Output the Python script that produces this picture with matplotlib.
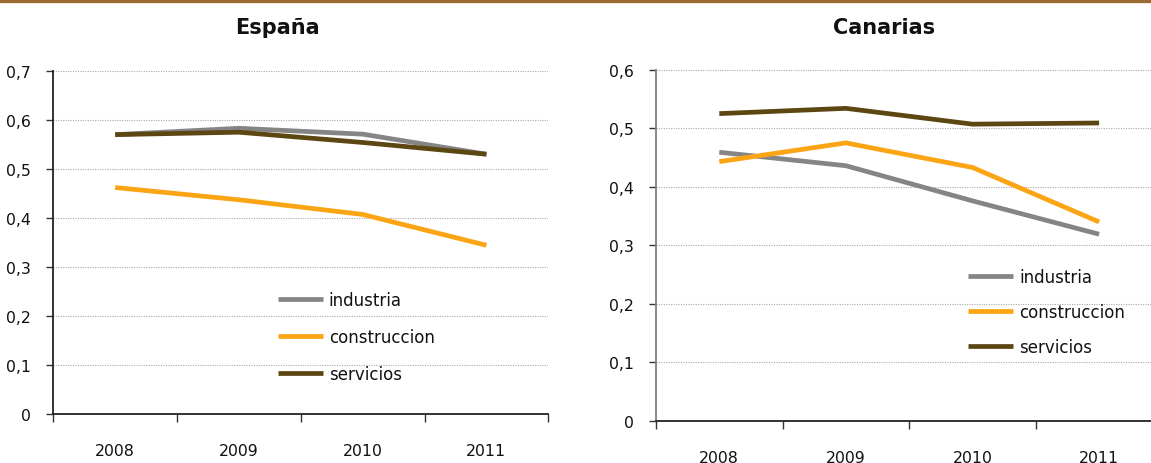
import matplotlib
matplotlib.use("Agg")
import matplotlib.pyplot as plt
from matplotlib.lines import Line2D

years = ["2008", "2009", "2010", "2011"]
series_names = ["industria", "construccion", "servicios"]

espana_industria = [0.570, 0.583, 0.571, 0.530]
espana_construccion = [0.462, 0.437, 0.407, 0.344]
espana_servicios = [0.570, 0.575, 0.554, 0.530]

canarias_industria = [0.459, 0.436, 0.376, 0.319]
canarias_construccion = [0.443, 0.475, 0.433, 0.340]
canarias_servicios = [0.525, 0.534, 0.507, 0.509]

espana_yticks = [0, 0.1, 0.2, 0.3, 0.4, 0.5, 0.6, 0.7]
espana_ylabels = ["0", "0,1", "0,2", "0,3", "0,4", "0,5", "0,6", "0,7"]
canarias_yticks = [0, 0.1, 0.2, 0.3, 0.4, 0.5, 0.6]
canarias_ylabels = ["0", "0,1", "0,2", "0,3", "0,4", "0,5", "0,6"]

colors = {"industria": "#858585", "construccion": "#FBA414", "servicios": "#5C4712"}

plt.rcParams['font.family'] = ['DejaVu Sans']

W, H = 1151, 464
fig = plt.figure(figsize=(W / 100, H / 100), dpi=100)

def px_axes(l, r, top, bottom):
    return [l / W, 1 - bottom / H, (r - l) / W, (bottom - top) / H]

ax1 = fig.add_axes(px_axes(53.3, 548.3, 72, 414.7))
ax2 = fig.add_axes(px_axes(656, 1162.4, 70.7, 422))

def style(ax, yticks, ylabels, ymax, data, spine_color, leg_anchor, leg_spacing, title, title_x):
    x = list(range(len(years)))
    for name, vals in zip(series_names, data):
        ax.plot(x, vals, color=colors[name], lw=3.4, solid_capstyle='butt',
                solid_joinstyle='miter', label=name, zorder=3)
    ax.set_xlim(-0.5, len(years) - 0.5)
    ax.set_ylim(0, ymax)
    ax.set_yticks(yticks)
    ax.set_yticklabels(ylabels, fontsize=11.3, color="#111111")
    ax.set_xticks([i - 0.5 for i in range(len(years) + 1)])
    ax.set_xticklabels([])
    ax.set_xticks(x, minor=True)
    ax.set_xticklabels(years, minor=True, fontsize=11.3, color="#111111")
    ax.tick_params(axis='x', which='major', length=6, width=1, color="#333333", direction='out')
    ax.tick_params(axis='x', which='minor', length=0, pad=21)
    ax.tick_params(axis='y', length=5, width=1, color="#333333", direction='out', pad=11)
    for s in ['top', 'right']:
        ax.spines[s].set_visible(False)
    ax.spines['left'].set_color(spine_color)
    ax.spines['left'].set_linewidth(1.3)
    ax.spines['bottom'].set_color("#222222")
    ax.spines['bottom'].set_linewidth(1.3)
    ax.grid(axis='y', linestyle=(0, (1, 1.2)), color="#a8a8a8", linewidth=0.8, zorder=0)
    ax.set_axisbelow(True)
    handles = [Line2D([0], [0], color=colors[n], lw=3.4, solid_capstyle='butt') for n in series_names]
    leg = ax.legend(handles, series_names, loc='center left',
                    bbox_to_anchor=leg_anchor, bbox_transform=fig.transFigure,
                    frameon=False, fontsize=12, handlelength=2.7, handletextpad=0.35,
                    labelspacing=leg_spacing, borderpad=0, borderaxespad=0)
    for t in leg.get_texts():
        t.set_color("#111111")
    fig.text(title_x / W, 1 - 28 / H, title, ha='center', va='center',
             fontsize=15, fontweight='bold', color="#111111")

style(ax1, espana_yticks, espana_ylabels, 0.7,
      [espana_industria, espana_construccion, espana_servicios], "#222222",
      (278 / W, 1 - 338 / H), 1.13, "España", 277)
style(ax2, canarias_yticks, canarias_ylabels, 0.6,
      [canarias_industria, canarias_construccion, canarias_servicios], "#808080",
      (968.3 / W, 1 - 312.7 / H), 1.03, "Canarias", 884)

fig.add_artist(Line2D([0, 1], [1 - 1.5 / H, 1 - 1.5 / H], transform=fig.transFigure,
                      color="#9B6A33", lw=2.4))

fig.savefig("out.png", dpi=100)
